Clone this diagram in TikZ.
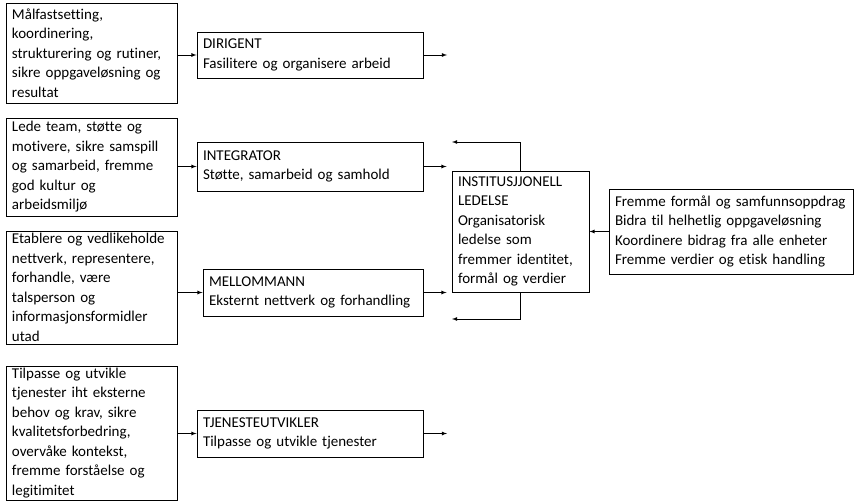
\documentclass[tikz,border=0pt]{standalone}
\usepackage{fontspec}
\setmainfont{Carlito}[Ligatures={NoCommon, NoRequired, NoContextual}]
\usepackage{tikz}

\begin{document}
\begin{tikzpicture}[x=1pt, y=-1pt,
        role/.style={draw, line width=0.9pt, align=left, inner xsep=6pt, inner ysep=0pt,
            font=\fontsize{15}{19.5}\selectfont},
        link/.style={-latex, line width=0.8pt}]
        \useasboundingbox (0,0) rectangle (854,503);

        % Tasks
        \node[role, text width=159pt, minimum height=100pt] (1) at (91.5, 53) {Målfastsetting,\\koordinering,\\strukturering og rutiner,\\sikre oppgaveløsning og\\resultat};
        \node[role, text width=159pt, minimum height=98pt] (3) at (91.5, 167) {Lede team, støtte og\\motivere, sikre samspill\\og samarbeid, fremme\\god kultur og\\arbeidsmiljø};
        \node[role, text width=159pt, minimum height=113pt] (5) at (91.5, 287.5) {Etablere og vedlikeholde\\nettverk, representere,\\forhandle, være\\talsperson og\\informasjonsformidler\\utad};
        \node[role, text width=159pt, minimum height=134pt] (7) at (91.5, 433) {Tilpasse og utvikle\\tjenester iht eksterne\\behov og krav, sikre\\kvalitetsforbedring,\\overvåke kontekst,\\fremme forståelse og\\legitimitet};

        % Roles
        \node[role, text width=214pt, minimum height=46pt] (2) at (310, 55) {DIRIGENT\\Fasilitere og organisere arbeid};
        \node[role, text width=214pt, minimum height=49pt] (4) at (310, 166.5) {INTEGRATOR\\Støtte, samarbeid og samhold};
        \node[role, text width=208pt, minimum height=47pt] (6) at (313, 292.5) {MELLOMMANN\\Eksternt nettverk og forhandling};
        \node[role, text width=214pt, minimum height=47pt] (8) at (310, 433.5) {TJENESTEUTVIKLER\\Tilpasse og utvikle tjenester};

        % Institutional
        \node[role, text width=125pt, minimum height=121pt] (9) at (520.5, 231.5) {INSTITUSJJONELL\\LEDELSE\\Organisatorisk\\ledelse som\\fremmer identitet,\\formål og verdier};
        \node[role, text width=232pt, minimum height=85pt] (10) at (731, 231.5) {Fremme formål og samfunnsoppdrag\\Bidra til helhetlig oppgaveløsning\\Koordinere bidrag fra alle enheter\\Fremme verdier og etisk handling};

        \coordinate (11) at (447, 55);
        \coordinate (12) at (447, 433.5);
        \coordinate (13) at (452, 142);
        \coordinate (14) at (452, 319);

        \draw[link] (2 -| 1.east) -- (2);
        \draw[link] (4 -| 3.east) -- (4);
        \draw[link] (6 -| 5.east) -- (6);
        \draw[link] (8 -| 7.east) -- (8);
        \draw[link] (2) -- (11);
        \draw[link] (8) -- (12);
        \draw[link, shorten >=5pt] (4) -- (4 -| 9.west);
        \draw[link, shorten >=5pt] (6) -- (6 -| 9.west);
        \draw[link] (9.north) |- (13);
        \draw[link] (9.south) |- (14);
        \draw[link] (10) -- (9);
    \end{tikzpicture}
\end{document}
